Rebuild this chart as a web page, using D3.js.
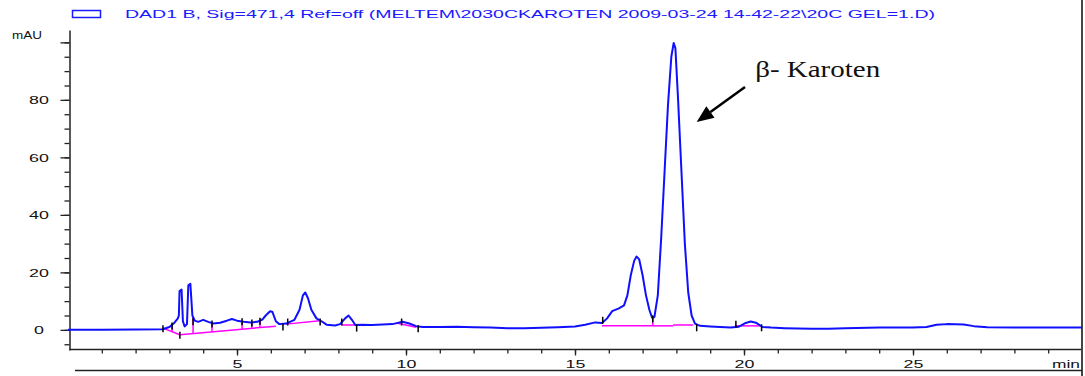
<!DOCTYPE html>
<meta charset="utf-8">
<style>
body { margin: 0; background: #fff; }
text { font-family: "Liberation Sans", Arial, sans-serif; }
</style>
<body>
<script src="https://cdn.jsdelivr.net/npm/d3@7"></script>
<script>

// retention time (min) and detector signal (mAU)
var times = [0, 1.0, 2.0, 2.8, 3.0, 3.15, 3.25, 3.28, 3.30, 3.36, 3.40, 3.45, 3.52, 3.56, 3.62, 3.68, 3.75, 3.85,
  4.0, 4.15, 4.3, 4.5, 4.7, 4.85, 5.0, 5.2, 5.4, 5.6, 5.75, 5.85, 5.98, 6.05, 6.15, 6.25, 6.45, 6.7, 6.85, 6.95,
  7.02, 7.1, 7.2, 7.35, 7.5, 7.65, 7.9, 8.05, 8.2, 8.3, 8.4, 8.5, 8.7, 9.0, 9.3, 9.6, 9.9, 10.1, 10.3, 10.5, 11,
  11.5, 12, 12.5, 13, 13.5, 14, 14.5, 15.0, 15.3, 15.6, 15.8, 15.95, 16.1, 16.3, 16.45, 16.55, 16.65, 16.75, 16.82,
  16.9, 17.0, 17.1, 17.2, 17.28, 17.35, 17.45, 17.55, 17.65, 17.75, 17.85, 17.92, 17.97, 18.05, 18.15, 18.25, 18.35,
  18.45, 18.55, 18.7, 19.0, 19.3, 19.6, 19.85, 20.05, 20.2, 20.35, 20.55, 20.8, 21.2, 22, 22.5, 23, 24, 25, 25.4,
  25.7, 26.0, 26.5, 26.8, 27.2, 28, 29, 30];
var signal = [0, 0, 0.1, 0.2, 1.0, 2.5, 4, 5, 13.5, 14, 3, 1.2, 2, 15.5, 16, 5, 3.2, 2.8,
  3.5, 2.8, 2.2, 2.5, 3.2, 3.8, 3.2, 2.8, 2.6, 2.8, 3.6, 5, 6.5, 6.2, 3, 2, 2.2, 3.5, 7, 12,
  13, 11, 7, 4, 3, 1.8, 1.5, 2, 4, 5, 3.5, 1.7, 1.8, 1.7, 1.9, 2, 2.8, 2.2, 1.3, 1.0, 1.0,
  1.1, 0.9, 0.8, 0.6, 0.6, 0.7, 0.9, 1.2, 1.8, 2.6, 2.4, 4, 6.5, 7.5, 8.5, 12, 19, 24, 25.5,
  24.5, 19, 12, 7, 4.2, 4.5, 12, 32, 55, 78, 95, 99.8, 98, 80, 55, 30, 13,
  5, 2.2, 1.4, 1.2, 1.0, 0.8, 1.1, 2.4, 2.9, 2.5, 1.0, 0.8, 0.6, 0.4, 0.4, 0.6, 0.8, 0.8, 1.0,
  1.8, 2.0, 1.9, 1.3, 0.9, 0.8, 0.8, 0.8];

// integration baselines [t0, v0, t1, v1]
var baselines = [
  [2.81, 0.6, 3.31, -1.7],
  [3.31, -1.7, 6.15, 1.3],
  [6.45, 2.0, 7.45, 3.2],
  [8.1, 1.7, 8.55, 1.7],
  [9.75, 2.3, 10.3, 0.9],
  [15.8, 1.4, 17.3, 1.4],
  [17.3, 1.4, 17.9, 1.4],
  [17.9, 1.7, 18.5, 1.7],
  [19.73, 1.4, 20.52, 1.4]
];
// peak splits (drop lines) and integration event marks
var dropTimes = [3.08, 3.70, 4.26, 5.15, 5.44, 5.68, 17.3];
var eventTimes = [2.81, 3.08, 3.31, 3.70, 4.26, 5.15, 5.44, 5.68, 6.36, 6.5, 7.46, 8.1, 8.54, 9.87, 10.36,
  15.82, 17.3, 18.6, 19.76, 20.52];
var eventLevels = [0.6, 1.5, -1.7, 3, 2.2, 3, 2.6, 3.2, 1.2, 2.9, 2.9, 2.9, 0.8, 2.9, 0.6,
  3.5, 4, 0.9, 2.1, 0.9];

var yMajor = [0, 20, 40, 60, 80, 100];
var yMinor = d3.range(-5, 101, 5);
var xMajor = [5, 10, 15, 20, 25];
var xMinor = d3.range(1, 30, 1);

var title = "DAD1 B, Sig=471,4 Ref=off (MELTEM\\2030CKAROTEN 2009-03-24 14-42-22\\20C GEL=1.D)";
var annotation = {label: "\u03b2- Karoten", tx: 20.33, tv: 88, fromT: 20.03, fromV: 84.5, toT: 18.6, toV: 72.3};

var width = 1085, height = 376;

var svg = d3.select("body").append("svg")
    .attr("width", width)
    .attr("height", height);

svg.append("rect").attr("width", width).attr("height", height).attr("fill", "#fff");

var x = d3.scaleLinear().domain([0, 30]).range([68, 1082]);
var y = d3.scaleLinear().domain([-7, 104.3]).range([350, 30]);

// title with legend box
svg.append("rect")
  .attr("x", 72.5).attr("y", 10.5).attr("width", 28).attr("height", 7)
  .attr("fill", "none").attr("stroke", "#1a1aff").attr("stroke-width", 1.5);
svg.append("text")
  .attr("x", 125).attr("y", 18)
  .attr("font-size", 11)
  .attr("fill", "#1a1aff")
  .attr("textLength", 810)
  .attr("lengthAdjust", "spacingAndGlyphs")
  .text(title);

// y axis
var gy = svg.append("g").attr("transform", "translate(69.5,0)");
gy.call(d3.axisLeft(y).tickValues(yMinor).tickSize(5).tickFormat("").tickSizeOuter(0));
var gyMaj = svg.append("g").attr("transform", "translate(69.5,0)");
gyMaj.call(d3.axisLeft(y).tickValues(yMajor).tickSize(9).tickSizeOuter(0)
  .tickFormat(function(d) { return d === 100 ? "" : d; }));
gyMaj.selectAll("text")
  .attr("x", 0).attr("dy", "0.36em")
  .attr("text-anchor", "middle")
  .attr("transform", "translate(-30.5,0) scale(1.7,1)")
  .attr("font-size", 10.5)
  .attr("fill", "#111");
svg.append("text")
  .attr("x", 12).attr("y", 39)
  .attr("font-size", 10.5)
  .attr("textLength", 30).attr("lengthAdjust", "spacingAndGlyphs")
  .attr("fill", "#111")
  .text("mAU");

// x axis
var gx = svg.append("g").attr("transform", "translate(0,349.5)");
gx.call(d3.axisBottom(x).tickValues(xMinor).tickSize(4).tickFormat("").tickSizeOuter(0));
var gxMaj = svg.append("g").attr("transform", "translate(0,349.5)");
gxMaj.call(d3.axisBottom(x).tickValues(xMajor).tickSize(6).tickSizeOuter(0));
gxMaj.selectAll("text")
  .attr("y", 0).attr("dy", 0)
  .attr("transform", "translate(0,18.5) scale(1.7,1)")
  .attr("font-size", 10.5)
  .attr("fill", "#111");
svg.append("text")
  .attr("x", 1080).attr("y", 368)
  .attr("text-anchor", "end")
  .attr("font-size", 10.5)
  .attr("textLength", 28).attr("lengthAdjust", "spacingAndGlyphs")
  .attr("fill", "#111")
  .text("min");

svg.selectAll(".domain").attr("stroke", "#222").attr("stroke-width", 1.5);
svg.selectAll(".tick line").attr("stroke", "#222").attr("stroke-width", 1.3);
gx.select(".domain").attr("d", "M69.5,0H1082");
gxMaj.select(".domain").remove();
gyMaj.select(".domain").remove();

// frame lines
svg.append("line").attr("x1", 1082).attr("x2", 1082).attr("y1", 0).attr("y2", height)
  .attr("stroke", "#444").attr("stroke-width", 2);
svg.append("line").attr("x1", 75).attr("x2", 1082).attr("y1", 370.5).attr("y2", 370.5)
  .attr("stroke", "#222").attr("stroke-width", 1.5);

// helpers
var trace = times.map(function(t, i) { return [t, signal[i]]; });
function signalAt(t) {
  var i = d3.bisector(function(d) { return d[0]; }).right(trace, t);
  var a = trace[i - 1], b = trace[i];
  return a[1] + (b[1] - a[1]) * (t - a[0]) / (b[0] - a[0]);
}
function baselineAt(t) {
  var s = baselines.find(function(b) { return t >= b[0] && t <= b[2]; });
  return s[1] + (s[3] - s[1]) * (t - s[0]) / (s[2] - s[0]);
}

// integration baselines
svg.append("g").selectAll("line")
  .data(baselines)
  .enter().append("line")
  .attr("x1", function(d) { return x(d[0]); })
  .attr("y1", function(d) { return y(d[1]); })
  .attr("x2", function(d) { return x(d[2]); })
  .attr("y2", function(d) { return y(d[3]); })
  .attr("stroke", "#ff00ff").attr("stroke-width", 1.5);

svg.append("g").selectAll("line")
  .data(dropTimes)
  .enter().append("line")
  .attr("x1", function(d) { return x(d); })
  .attr("x2", function(d) { return x(d); })
  .attr("y1", function(d) { return y(signalAt(d)); })
  .attr("y2", function(d) { return y(baselineAt(d)); })
  .attr("stroke", "#ff00ff").attr("stroke-width", 1.5);

// chromatogram
var line = d3.line()
  .x(function(d) { return x(d[0]); })
  .y(function(d) { return y(d[1]); });

svg.append("path")
  .datum(trace)
  .attr("d", line)
  .attr("fill", "none")
  .attr("stroke", "#1010ff")
  .attr("stroke-width", 2)
  .attr("stroke-linejoin", "round");

// event marks
svg.append("g").selectAll("line")
  .data(eventTimes)
  .enter().append("line")
  .attr("x1", function(d) { return x(d); })
  .attr("x2", function(d) { return x(d); })
  .attr("y1", function(d, i) { return y(eventLevels[i]) - 3; })
  .attr("y2", function(d, i) { return y(eventLevels[i]) + 4; })
  .attr("stroke", "#000").attr("stroke-width", 1.5);

// annotation
var ax0 = x(annotation.fromT), ay0 = y(annotation.fromV),
    ax1 = x(annotation.toT), ay1 = y(annotation.toV);
var ang = Math.atan2(ay1 - ay0, ax1 - ax0), headLen = 17, headW = 7;
var bx = ax1 - headLen * Math.cos(ang), by = ay1 - headLen * Math.sin(ang);
svg.append("line")
  .attr("x1", ax0).attr("y1", ay0).attr("x2", bx).attr("y2", by)
  .attr("stroke", "#000").attr("stroke-width", 2.5);
svg.append("path")
  .attr("d", "M" + ax1 + "," + ay1 +
    "L" + (bx + headW * Math.sin(ang)) + "," + (by - headW * Math.cos(ang)) +
    "L" + (bx - headW * Math.sin(ang)) + "," + (by + headW * Math.cos(ang)) + "Z")
  .attr("fill", "#000");
svg.append("text")
  .attr("x", x(annotation.tx)).attr("y", y(annotation.tv))
  .style("font-family", "'Liberation Serif', 'Times New Roman', serif")
  .attr("font-size", 23)
  .attr("textLength", 125).attr("lengthAdjust", "spacingAndGlyphs")
  .attr("fill", "#111")
  .text(annotation.label);

</script>
</body>
